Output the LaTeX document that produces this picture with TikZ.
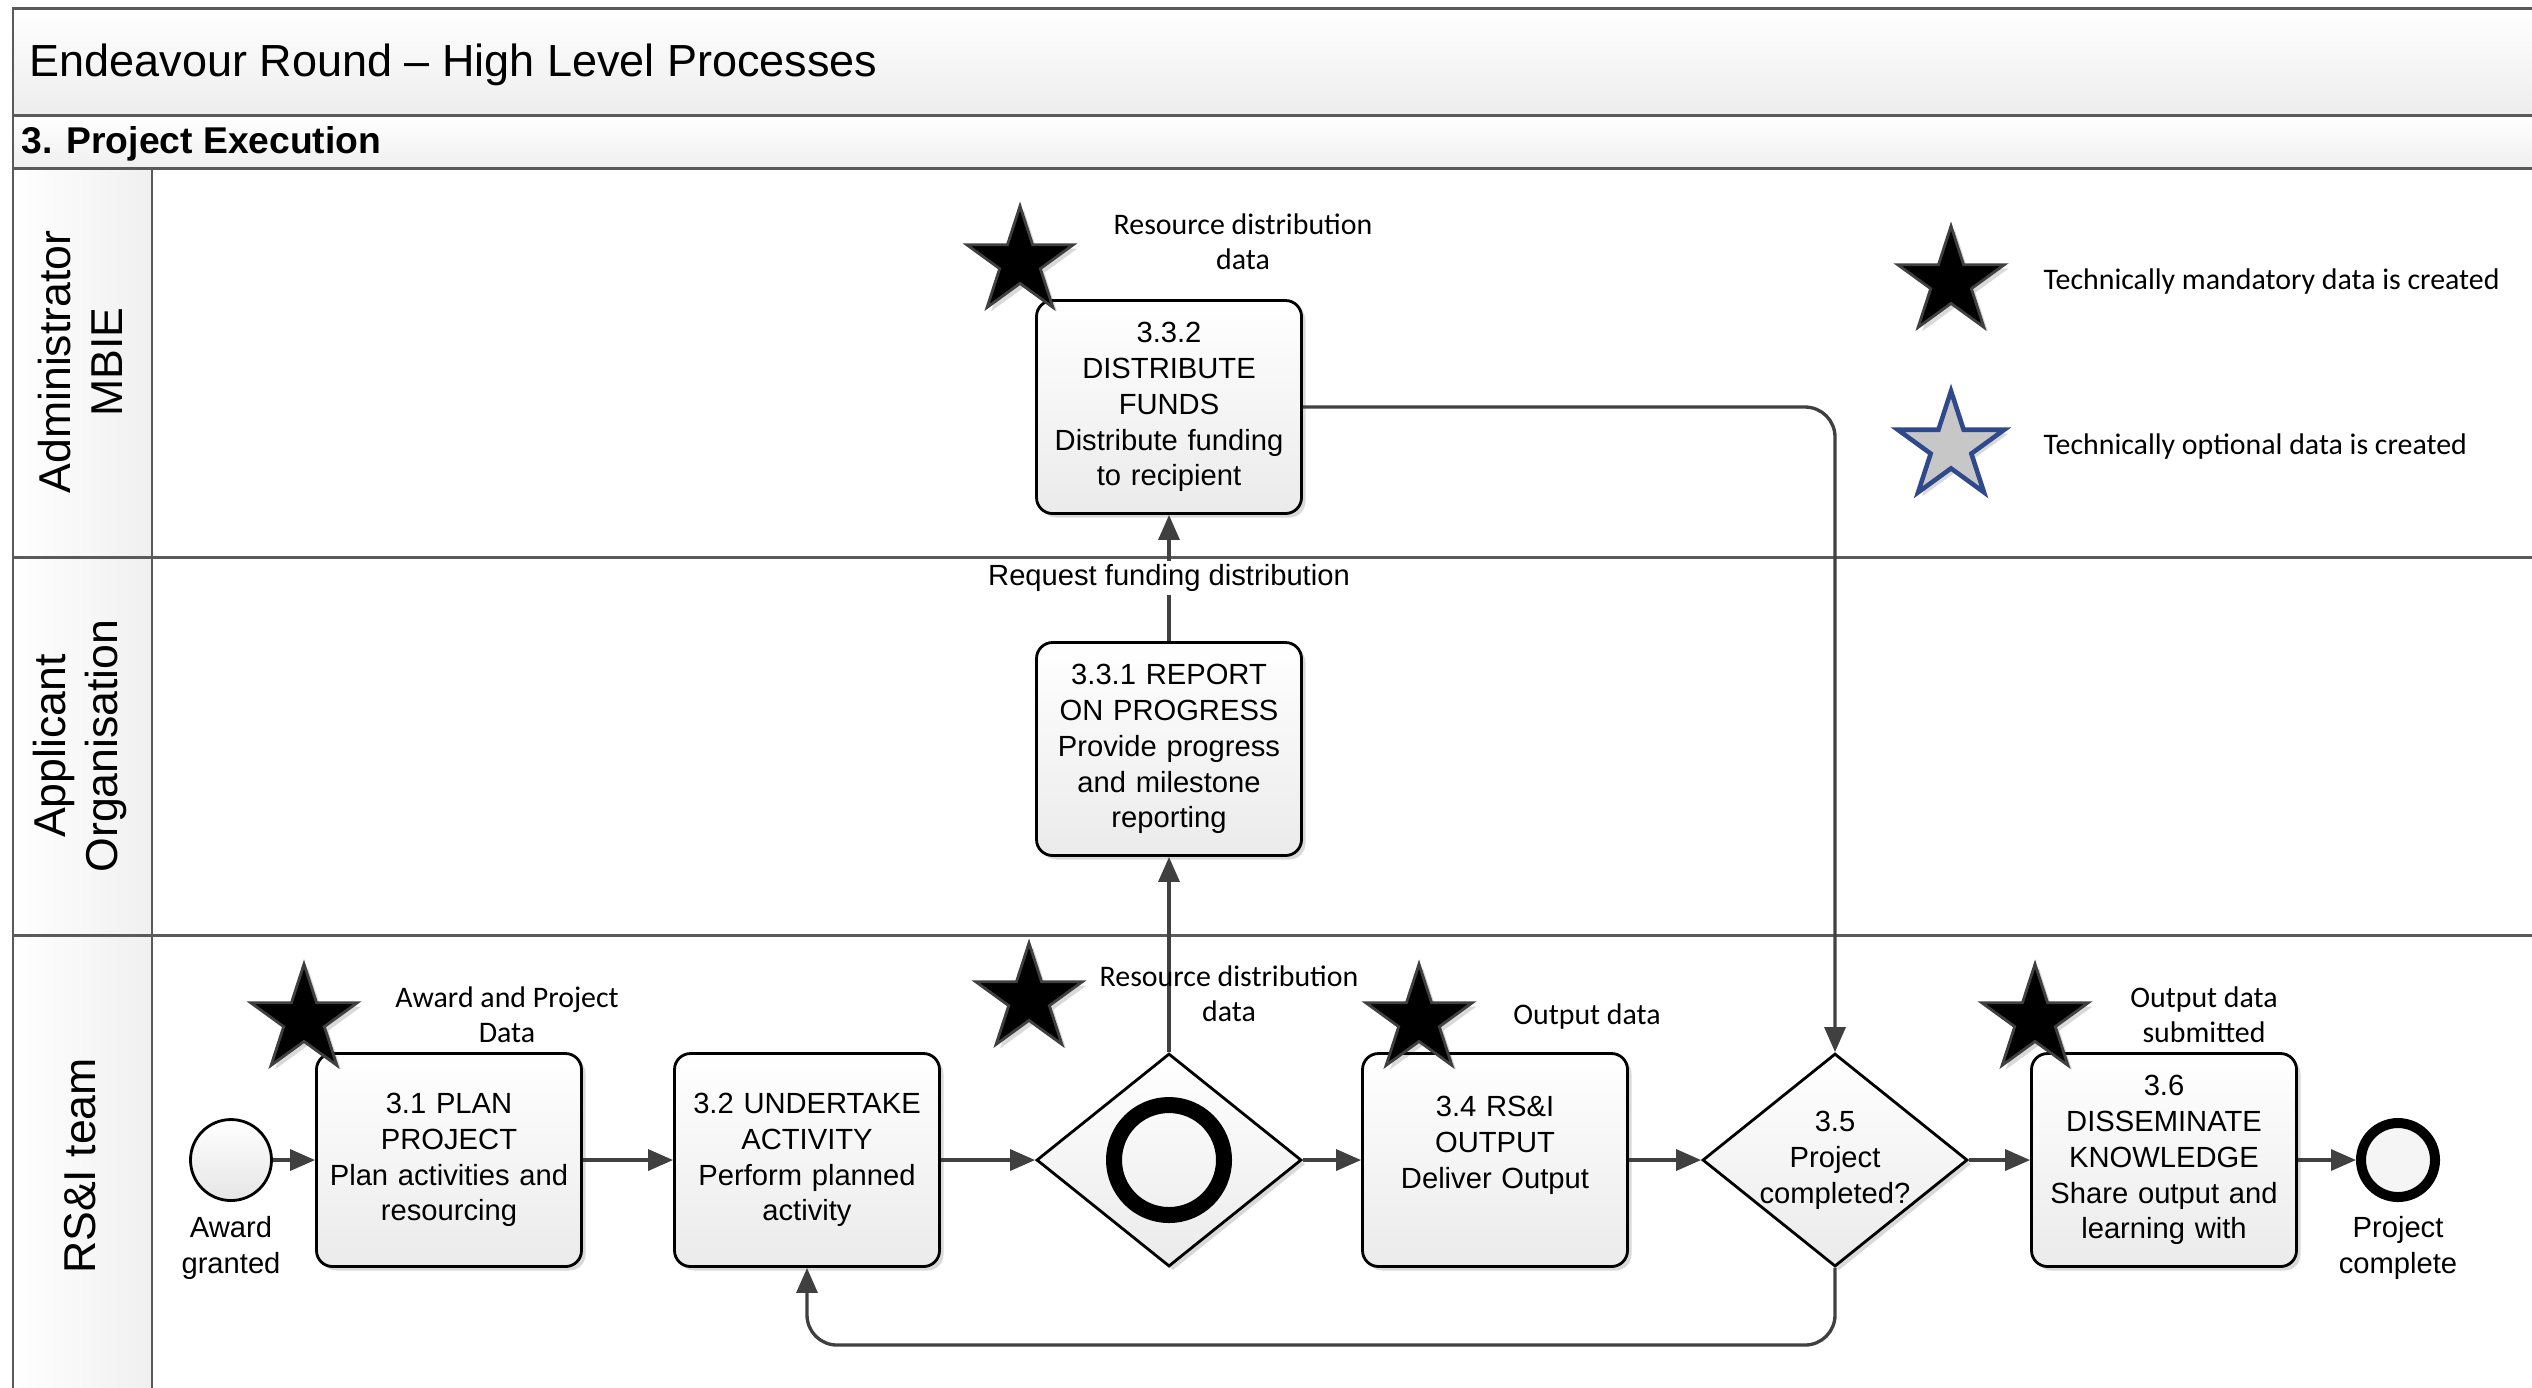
\documentclass[tikz,border=0pt]{standalone}
\usepackage{fontspec}
\setmainfont{Liberation Sans}
\newfontfamily\notefont{Carlito}
\usetikzlibrary{arrows.meta}
\usetikzlibrary{positioning, shapes.geometric, shadows}

\definecolor{lineGray}{HTML}{404040}
\definecolor{laneGray}{HTML}{5A5A5A}
\definecolor{starBlue}{HTML}{2E4A8C}

\begin{document}
\begin{tikzpicture}[
        on grid,
        >={Triangle[length=0.25cm, width=0.21cm]},
        every node/.style={font=\fontsize{8.3}{10.2}\selectfont},
        lane/.style={draw=laneGray, line width=0.85pt},
        softshadow/.style={drop shadow={shadow xshift=0.04cm, shadow yshift=-0.04cm, fill=black, opacity=0.15}},
        task/.style={draw=black, line width=0.8pt, rounded corners=0.16cm, minimum width=2.65cm, minimum height=2.13cm,
            text width=2.55cm, align=center, inner sep=0pt, top color=white, bottom color=black!8, softshadow},
        gateway/.style={diamond, draw=black, line width=0.8pt, minimum width=2.65cm, minimum height=2.13cm,
            inner sep=0pt, top color=white, bottom color=black!8, softshadow},
        event/.style={circle, draw=black, line width=0.8pt, minimum size=0.81cm, inner sep=0pt, top color=white, bottom color=black!10},
        endevent/.style={circle, draw=black, line width=0.1cm, minimum size=0.74cm, inner sep=0pt, fill=black!4},
        datastar/.style={star, star points=5, star point ratio=2.62, minimum size=1.12cm, inner sep=0pt,
            fill=black, draw=black!75, line width=0.8pt, softshadow},
        optstar/.style={datastar, fill=black!22, draw=starBlue, line width=1.3pt},
        datalabel/.style={align=center, font=\notefont\fontsize{8.5}{10}\selectfont},
        flow/.style={->, draw=lineGray, line width=0.95pt}
    ]

    \useasboundingbox (0,0) rectangle (25.32,-13.87);
    \clip (0,0) rectangle (25.32,-13.87);

    % Title and section bands
    \draw[lane, top color=white, bottom color=black!7] (0.13,-0.08) rectangle (26,-1.15);
    \node[anchor=west, inner sep=0pt, font=\fontsize{12.8}{15}\selectfont] (title) at (0.29,-0.65) {Endeavour Round -- High Level Processes};
    \draw[lane, top color=white, bottom color=black!6] (0.13,-1.15) rectangle (26,-1.68);
    \node[anchor=west, inner sep=0pt, font=\bfseries\fontsize{10.6}{12}\selectfont] (section) at (0.21,-1.44) {3. Project Execution};

    % Swimlanes
    \draw[lane] (0.13,-1.68) rectangle (26,-5.57);
    \draw[lane] (0.13,-5.57) rectangle (26,-9.35);
    \draw[lane] (0.13,-9.35) rectangle (26,-14.5);
    \draw[lane, left color=white, right color=black!6] (0.13,-1.68) rectangle (1.52,-5.57);
    \draw[lane, left color=white, right color=black!6] (0.13,-5.57) rectangle (1.52,-9.35);
    \draw[lane, left color=white, right color=black!6] (0.13,-9.35) rectangle (1.52,-14.5);
    \node[rotate=90, align=center, font=\fontsize{12.7}{14.7}\selectfont] (adminlane) at (0.80,-3.62) {Administrator\\MBIE};
    \node[rotate=90, align=center, font=\fontsize{12.7}{14.7}\selectfont] (applane) at (0.80,-7.46) {Applicant\\Organisation};
    \node[rotate=90, align=center, font=\fontsize{12.7}{14.7}\selectfont] (teamlane) at (0.80,-11.66) {RS\&I team};

    % Main flow in the RS&I team lane
    \node[event] (start) at (2.31,-11.60) {};
    \node[below=0.88cm of start, align=center] (startlabel) {Award\\granted};
    \node[task, right=2.18cm of start] (plan) {3.1 PLAN\\PROJECT\\Plan activities and\\resourcing};
    \node[task, right=3.58cm of plan] (undertake) {3.2 UNDERTAKE\\ACTIVITY\\Perform planned\\activity};
    \node[gateway, right=3.62cm of undertake] (gate) {};
    \node[circle, draw=black, line width=0.16cm, minimum size=1.10cm, inner sep=0pt] (gatering) at (gate) {};
    \node[task, right=3.26cm of gate] (output) {3.4 RS\&I\\OUTPUT\\Deliver Output\\~};
    \node[gateway, right=3.40cm of output] (decision) {};
    \node[align=center] (decisionlabel) at (decision) {3.5\\Project\\completed?};
    \node[task, right=3.29cm of decision] (disseminate) {3.6\\DISSEMINATE\\KNOWLEDGE\\Share output and\\learning with};
    \node[endevent, right=2.34cm of disseminate] (finish) {};
    \node[below=0.88cm of finish, align=center] (finishlabel) {Project\\complete};

    % Tasks in the upper lanes
    \node[task, above=4.11cm of gate] (report) {3.3.1 REPORT\\ON PROGRESS\\Provide progress\\and milestone\\reporting};
    \node[task, above=3.42cm of report] (distribute) {3.3.2\\DISTRIBUTE\\FUNDS\\Distribute funding\\to recipient};

    % Sequence flows
    \draw[flow] (start) -- (plan);
    \draw[flow] (plan) -- (undertake);
    \draw[flow] (undertake) -- (gate);
    \draw[flow] (gate) -- (output);
    \draw[flow] (output) -- (decision);
    \draw[flow] (decision) -- (disseminate);
    \draw[flow] (disseminate) -- (finish);
    \draw[flow] (gate) -- (report);
    \draw[flow] (report) -- (distribute)
        node[midway, fill=white, inner sep=1pt] (requestlabel) {Request funding distribution};
    \draw[flow, rounded corners=0.3cm] (distribute) -| (decision);
    \coordinate (loop) at (8.07,-13.45);
    \draw[flow, rounded corners=0.3cm] (decision) |- (loop) -- (undertake);

    % Data stars and their labels
    \node[datastar] (star31) at (3.04,-10.20) {};
    \node[datalabel] (data31) at (5.07,-10.15) {Award and Project\\Data};
    \node[datastar] (star332) at (10.20,-2.62) {};
    \node[datalabel] (data332) at (12.43,-2.42) {Resource distribution\\data};
    \node[datastar] (stargate) at (10.29,-9.99) {};
    \node[datalabel] (datagate) at (12.29,-9.94) {Resource distribution\\data};
    \node[datastar] (star34) at (14.19,-10.20) {};
    \node[datalabel] (data34) at (15.87,-10.17) {Output data};
    \node[datastar] (star36) at (20.35,-10.20) {};
    \node[datalabel] (data36) at (22.04,-10.15) {Output data\\submitted};

    % Legend
    \node[datastar] (keymandatory) at (19.51,-2.82) {};
    \node[datalabel, anchor=west, inner sep=0pt] (keymandatorytext) at (20.43,-2.82) {Technically mandatory data is created};
    \node[optstar] (keyoptional) at (19.51,-4.47) {};
    \node[datalabel, anchor=west, inner sep=0pt] (keyoptionaltext) at (20.43,-4.47) {Technically optional data is created};

\end{tikzpicture}
\end{document}
